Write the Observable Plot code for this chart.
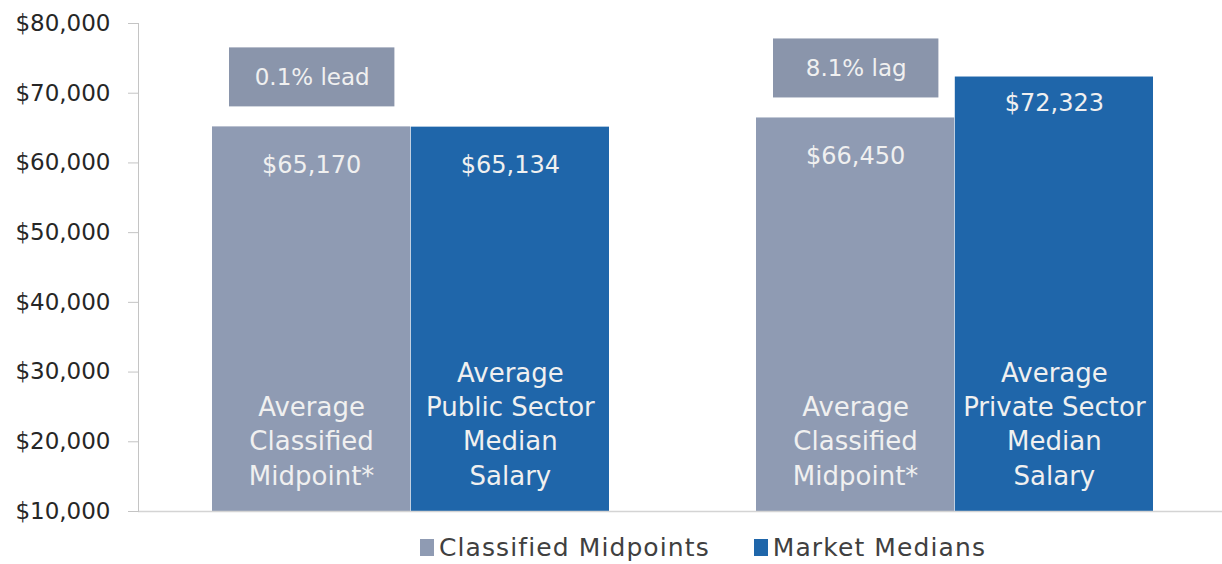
<!DOCTYPE html>
<html><head><meta charset="utf-8">
<script src="https://cdn.jsdelivr.net/npm/d3@7"></script>
<script src="https://cdn.jsdelivr.net/npm/@observablehq/plot@0.6"></script>
<style>
body{margin:0;background:#fff;font-family:"DejaVu Sans",sans-serif;}
#legend{display:flex;justify-content:center;align-items:center;padding-left:184px;padding-top:5px;height:34px;font-size:25px;letter-spacing:1.1px;color:#404040;}
.item{display:flex;align-items:center;margin:0 22px;}
.sw{width:14px;height:17px;margin-right:5px;}
</style></head><body>
<div id="chart"></div><div id="legend"></div>
<script>
const groups = ["Public Sector Comparison", "Private Sector Comparison"];
const seriesNames = ["Classified Midpoints", "Market Medians"];
const seriesColors = ["#8F9BB3", "#1F66AA"];
const classifiedValues = [65170, 66450];
const marketValues = [65134, 72323];
const gapLabels = ["0.1% lead", "8.1% lag"];
const classifiedNames = ["Average\nClassified\nMidpoint*", "Average\nClassified\nMidpoint*"];
const marketNames = ["Average\nPublic Sector\nMedian\nSalary", "Average\nPrivate Sector\nMedian\nSalary"];
const yTicks = [10000, 20000, 30000, 40000, 50000, 60000, 70000, 80000];

const data = groups.map((g, i) => ({
  group: g, classified: classifiedValues[i], market: marketValues[i],
  gap: gapLabels[i], cName: classifiedNames[i], mName: marketNames[i], idx: i
}));
const fmt = d3.format("$,");
const half = 198.8;
const txt = "#f0f0f0";

const chart = Plot.plot({
  width: 1222, height: 525,
  marginLeft: 138, marginRight: 0, marginTop: 23, marginBottom: 14,
  style: {fontFamily: "DejaVu Sans, sans-serif", background: "#fff"},
  x: {type: "band", domain: groups, paddingInner: 0.27, paddingOuter: 0.13, align: 0.52, axis: null},
  y: {domain: [10000, 80000], axis: null},
  marks: [
    Plot.barY(data, {x: "group", y1: 10000, y2: "classified", fill: seriesColors[0], insetRight: half}),
    Plot.barY(data, {x: "group", y1: 10000, y2: "market", fill: seriesColors[1], insetLeft: half}),
    Plot.ruleY([10000], {stroke: "#d4d4d4", strokeWidth: 1.5}),
    Plot.frame({anchor: "left", stroke: "#c4c4c4"}),
    Plot.axisY({ticks: yTicks, tickFormat: fmt, tickSize: 10, tickPadding: 18, fontSize: 23, stroke: "#c4c4c4", fill: "#262626"}),
    Plot.barY(data, {x: "group", y1: "classified", y2: "classified", insetTop: -79, insetBottom: 20, insetLeft: 17, insetRight: 2 * half - 17 - 166, fill: "#8A95AB"}),
    Plot.text(data, {x: "group", y: "classified", text: "gap", dx: -98.8, dy: -49, fill: txt, fontSize: 23}),
    Plot.text(data, {x: "group", y: "classified", text: d => fmt(d.classified), dx: -half / 2, dy: 38, fill: txt, fontSize: 24}),
    Plot.text(data.filter(d => d.idx === 0), {x: "group", y: "market", text: d => fmt(d.market), dx: half / 2, dy: 38, fill: txt, fontSize: 24}),
    Plot.text(data.filter(d => d.idx === 1), {x: "group", y: "market", text: d => fmt(d.market), dx: half / 2, dy: 26, fill: txt, fontSize: 24}),
    Plot.text(data, {x: "group", text: "cName", frameAnchor: "bottom", lineAnchor: "bottom", dx: -half / 2, dy: -27, lineHeight: 1.31, fontSize: 26, fill: txt}),
    Plot.text(data, {x: "group", text: "mName", frameAnchor: "bottom", lineAnchor: "bottom", dx: half / 2, dy: -27, lineHeight: 1.31, fontSize: 26, fill: txt})
  ]
});
document.getElementById("chart").append(chart);

const legend = document.getElementById("legend");
seriesNames.forEach((name, i) => {
  const item = document.createElement("div");
  item.className = "item";
  const sw = document.createElement("span");
  sw.className = "sw";
  sw.style.background = seriesColors[i];
  const label = document.createElement("span");
  label.textContent = name;
  item.append(sw, label);
  legend.append(item);
});
</script>
</body></html>
